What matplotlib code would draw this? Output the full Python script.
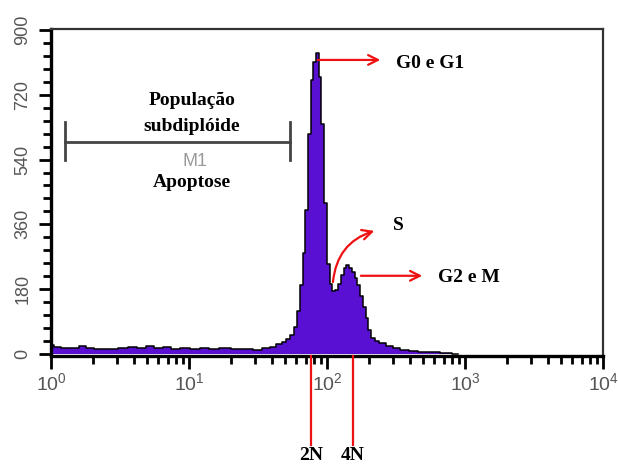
import matplotlib
matplotlib.use("Agg")
import matplotlib.pyplot as plt
from matplotlib.ticker import FixedLocator, LogLocator, NullFormatter
import matplotlib.transforms as mtransforms

# ---- data ----
fl2 = [1.0, 1.12, 1.26, 1.5, 1.7, 1.9, 2.2, 2.8, 3.3, 3.9, 4.5, 5.2, 6.0, 6.9, 8.0, 9.3,
       11, 13, 15, 18, 22, 26, 32, 36, 41, 45, 49, 52, 56, 59, 62, 65, 68, 71, 74, 78,
       81, 85, 89, 93, 98, 102, 107, 112, 117, 123, 129, 135, 141, 148, 155, 162, 170,
       178, 186, 195, 204, 214, 229, 251, 282, 316, 363, 417, 501, 603, 708, 891]
counts = [25, 18, 15, 16, 21, 15, 14, 14, 15, 20, 15, 22, 15, 18, 14, 15,
          14, 16, 14, 15, 13, 13, 12, 16, 20, 26, 32, 40, 52, 75, 120, 190, 280, 400, 610, 760,
          810, 836, 770, 640, 420, 250, 195, 175, 178, 195, 218, 238, 247, 240, 228, 210, 190,
          160, 130, 100, 65, 45, 36, 30, 22, 16, 10, 8, 5, 6, 2, 0]

yticks = [0, 180, 360, 540, 720, 900]
xticks = [1, 10, 100, 1000, 10000]
xticklabels = [r'$\mathregular{10^{0}}$', r'$\mathregular{10^{1}}$', r'$\mathregular{10^{2}}$',
               r'$\mathregular{10^{3}}$', r'$\mathregular{10^{4}}$']

m1_range = (1.26, 54)
m1_level = 589
m1_cap = (539, 644)
marker_2n = 76.6
marker_4n = 154

phase_labels = ["G0 e G1", "S", "G2 e M"]

# ---- figure ----
fig = plt.figure(figsize=(6.18, 4.69), dpi=100)
ax = fig.add_axes([51/618, 1-356/469, (603-51)/618, (356-29)/469])
ax.set_xscale('log')
ax.set_xlim(1, 10000)
ax.set_ylim(-6, 903)

purple = '#5a10d2'
ax.fill_between(fl2, counts, 0, step='mid', color=purple, lw=0, zorder=2)
ax.step(fl2, counts, where='mid', color='black', lw=1.1, zorder=3)

# spines
for s in ['left', 'bottom']:
    ax.spines[s].set_linewidth(2.4)
    ax.spines[s].set_color('black')
for s in ['top', 'right']:
    ax.spines[s].set_linewidth(1.6)
    ax.spines[s].set_color('#333333')

ax.yaxis.set_major_locator(FixedLocator(yticks))
ax.yaxis.set_minor_locator(FixedLocator([v for v in range(0, 901, 36) if v % 180]))
ax.set_xticks(xticks)
ax.set_xticklabels(xticklabels)
ax.xaxis.set_minor_locator(LogLocator(base=10, subs=range(2, 10)))
ax.xaxis.set_minor_formatter(NullFormatter())
ax.tick_params(axis='both', which='major', direction='out', length=9, width=2, color='black')
ax.tick_params(axis='both', which='minor', direction='out', length=6, width=2, color='black')
ax.tick_params(axis='y', which='major', pad=5)
ax.tick_params(axis='x', which='major', pad=3)
for lab in ax.get_yticklabels():
    lab.set_rotation(90)
    lab.set_va('center')
    lab.set_fontsize(13)
    lab.set_color('#555555')
    lab.set_family('Liberation Sans')
for lab in ax.get_xticklabels():
    lab.set_fontsize(14)
    lab.set_color('#555555')
    lab.set_family('Liberation Sans')

# M1 marker
ax.plot(m1_range, [m1_level, m1_level], color='#444444', lw=2, zorder=4)
for xv in m1_range:
    ax.plot([xv, xv], m1_cap, color='#444444', lw=2, zorder=4)
ax.text(11, 535, 'M1', color='#9a9a9a', fontsize=13, ha='center', va='center',
        family='Liberation Sans')

tfont = dict(family='Liberation Serif', fontweight='bold', fontsize=14, color='black')
ax.text(10.5, 705, 'População', ha='center', va='center', **tfont)
ax.text(10.5, 632, 'subdiplóide', ha='center', va='center', **tfont)
ax.text(10.5, 477, 'Apoptose', ha='center', va='center', **tfont)

red = '#ee1111'
arrow = dict(arrowstyle='->,head_length=0.7,head_width=0.35', color=red, lw=1.6)
ax.annotate('', xy=(255, 817), xytext=(81.8, 817), arrowprops=arrow)
ax.text(316, 808, phase_labels[0], ha='left', va='center', **tfont)

ax.annotate('', xy=(230, 344), xytext=(110, 192),
            arrowprops=dict(arrow, connectionstyle='arc3,rad=-0.35'))
ax.text(301, 356, phase_labels[1], ha='left', va='center', **tfont)

ax.annotate('', xy=(513, 217), xytext=(168, 217), arrowprops=arrow)
ax.text(637, 211, phase_labels[2], ha='left', va='center', **tfont)

# 2N / 4N markers
trans = mtransforms.blended_transform_factory(ax.transData, ax.transAxes)
for xv, lab in [(marker_2n, '2N'), (marker_4n, '4N')]:
    ax.plot([xv, xv], [0.0, -0.272], color=red, lw=1.6, transform=trans, clip_on=False, zorder=5)
    ax.text(xv, -0.305, lab, ha='center', va='center', transform=trans, **tfont)

fig.savefig('out.png', dpi=100, facecolor='white')
